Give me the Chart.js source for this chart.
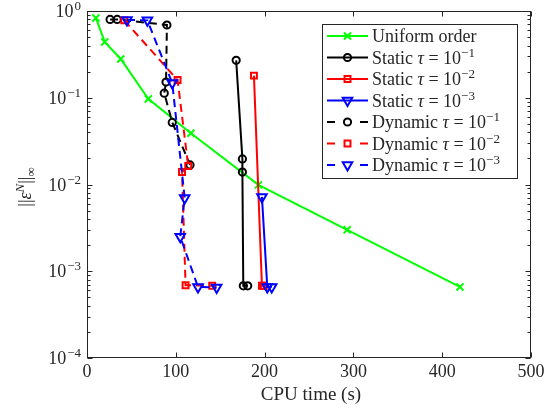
<!DOCTYPE html>
<html><head><meta charset="utf-8">
<script src="https://cdn.jsdelivr.net/npm/chart.js@4.4.1/dist/chart.umd.min.js"></script>
<style>html,body{margin:0;padding:0;background:#fff;} #c{display:block;}</style>
</head><body>
<canvas id="c" width="555" height="418" style="width:555px;height:418px"></canvas>
<script>
// ---- data ----
const uniformX  = [10, 20, 38, 69, 117, 193, 293, 420];
const uniformY  = [0.83, 0.44, 0.28, 0.097, 0.039, 0.0099, 0.0030, 0.00066];
const static1X  = [168, 175, 175, 176, 181];
const static1Y  = [0.27, 0.0197, 0.0139, 0.00068, 0.00068];
const static2X  = [188, 197, 199];
const static2Y  = [0.18, 0.00068, 0.00068];
const static3X  = [197, 203, 208];
const static3Y  = [0.0072, 0.00066, 0.00066];
const dynamic1X = [26, 34, 90, 89, 87, 96, 116];
const dynamic1Y = [0.80, 0.80, 0.69, 0.152, 0.113, 0.052, 0.0168];
const dynamic2X = [42, 102, 114, 107, 111, 141];
const dynamic2Y = [0.78, 0.16, 0.0163, 0.0139, 0.00069, 0.00068];
const dynamic3X = [45, 68, 96, 110, 105, 125, 146];
const dynamic3Y = [0.79, 0.78, 0.148, 0.0070, 0.0025, 0.00066, 0.00065];
const xTicks = [0, 100, 200, 300, 400, 500];
const yTickExponents = [0, -1, -2, -3, -4];
const legendNames = ['Uniform order', 'Static', 'Static', 'Static', 'Dynamic', 'Dynamic', 'Dynamic'];
const legendExps  = [null, '\u22121', '\u22122', '\u22123', '\u22121', '\u22122', '\u22123'];
const xTitle = 'CPU time (s)';

// ---- styles ----
const seriesX = [uniformX, static1X, static2X, static3X, dynamic1X, dynamic2X, dynamic3X];
const seriesY = [uniformY, static1Y, static2Y, static3Y, dynamic1Y, dynamic2Y, dynamic3Y];
const styles = [
  {color:'#00ff00', dashed:false, point:'crossRot', r:5,   rot:0},
  {color:'#000000', dashed:false, point:'circle',   r:3.6, rot:0},
  {color:'#ff0000', dashed:false, point:'rect',     r:4.2, rot:0},
  {color:'#0000ff', dashed:false, point:'triangle', r:5.5, rot:180},
  {color:'#000000', dashed:true,  point:'circle',   r:3.6, rot:0},
  {color:'#ff0000', dashed:true,  point:'rect',     r:4.2, rot:0},
  {color:'#0000ff', dashed:true,  point:'triangle', r:5.5, rot:180}
];
const SERIF = "'Liberation Serif', 'Times New Roman', serif";
const AX = '#262626';

const datasets = seriesX.map((xs, i) => {
  const s = styles[i];
  return {
    label: legendNames[i] + (legendExps[i] ? ' \u03c4 = 10' + legendExps[i] : ''),
    data: xs.map((x, j) => ({x: x, y: seriesY[i][j]})),
    borderColor: s.color, backgroundColor: s.color,
    borderWidth: 2, borderDash: s.dashed ? [8, 5] : [],
    tension: 0, fill: false,
    pointStyle: s.point, pointRadius: s.r, pointRotation: s.rot,
    pointBorderColor: s.color, pointBackgroundColor: 'rgba(0,0,0,0)',
    pointBorderWidth: 2, pointHoverRadius: s.r,
    order: 7 - i
  };
});

function drawMarker(ctx, s, x, y) {
  ctx.save();
  ctx.strokeStyle = s.color; ctx.lineWidth = 2; ctx.setLineDash([]);
  ctx.fillStyle = 'rgba(0,0,0,0)';
  Chart.helpers.drawPoint(ctx, {pointStyle: s.point, radius: s.r, rotation: s.rot, borderWidth: 2}, x, y);
  ctx.restore();
}

const axesPlugin = {
  id: 'axesBox',
  afterDraw(chart) {
    const {ctx, chartArea: a, scales: {x, y}} = chart;
    ctx.save();
    ctx.strokeStyle = AX; ctx.lineWidth = 1; ctx.setLineDash([]);
    const L = Math.round(a.left) + 0.5, R = Math.round(a.right) - 0.5;
    const T = Math.round(a.top) + 0.5, B = Math.round(a.bottom) - 0.5;
    ctx.strokeRect(L, T, R - L, B - T);
    ctx.beginPath();
    xTicks.forEach(v => {
      const px = Math.round(x.getPixelForValue(v)) + 0.5;
      ctx.moveTo(px, B); ctx.lineTo(px, B - 5);
      ctx.moveTo(px, T); ctx.lineTo(px, T + 5);
    });
    for (let e = -4; e <= 0; e++) {
      for (let k = 1; k <= 9; k++) {
        const v = k * Math.pow(10, e);
        if (v > 1.0000001) break;
        const py = Math.round(y.getPixelForValue(v)) + 0.5;
        const len = k === 1 ? 5 : 3;
        ctx.moveTo(L, py); ctx.lineTo(L + len, py);
        ctx.moveTo(R, py); ctx.lineTo(R - len, py);
      }
    }
    ctx.stroke();

    // y tick labels 10^e
    ctx.fillStyle = AX; ctx.textBaseline = 'alphabetic'; ctx.textAlign = 'left';
    const mainF = '18px ' + SERIF, supF = '13px ' + SERIF;
    yTickExponents.forEach(e => {
      const py = y.getPixelForValue(Math.pow(10, e));
      const ex = e === 0 ? '0' : '\u2212' + (-e);
      ctx.font = supF; const ew = ctx.measureText(ex).width;
      ctx.font = mainF; const bw = ctx.measureText('10').width;
      const right = 81;
      ctx.fillText('10', right - ew - 1 - bw, py + 6);
      ctx.font = supF; ctx.fillText(ex, right - ew, py - 1);
    });

    // x title
    ctx.font = '19px ' + SERIF; ctx.textAlign = 'center';
    ctx.fillText(xTitle, (a.left + a.right) / 2 + 2, 400);

    // y title ||eps^N||_inf
    ctx.save();
    ctx.translate(31, 187); ctx.rotate(-Math.PI / 2);
    const parts = [
      {t:'||', f:'18px ' + SERIF, dy:0},
      {t:'\u03b5', f:'italic 18px ' + SERIF, dy:0},
      {t:'N', f:'italic 13px ' + SERIF, dy:-7},
      {t:'||', f:'18px ' + SERIF, dy:0},
      {t:'\u221e', f:'13px ' + SERIF, dy:4}
    ];
    let tw = 0;
    parts.forEach(p => { ctx.font = p.f; p.w = ctx.measureText(p.t).width; tw += p.w; });
    let cx = -tw / 2; ctx.textAlign = 'left';
    parts.forEach(p => { ctx.font = p.f; ctx.fillText(p.t, cx, p.dy); cx += p.w; });
    ctx.restore();

    // legend
    const bx = 322, by = 24, bw2 = 195, bh = 154;
    ctx.fillStyle = '#ffffff'; ctx.fillRect(bx, by, bw2, bh);
    ctx.strokeStyle = AX; ctx.lineWidth = 1; ctx.strokeRect(bx + 0.5, by + 0.5, bw2, bh);
    legendNames.forEach((name, i) => {
      const s = styles[i];
      const yb = 42 + i * 21.5, yc = yb - 6;
      ctx.strokeStyle = s.color; ctx.lineWidth = 2; ctx.setLineDash([]);
      ctx.beginPath();
      if (s.dashed) { ctx.moveTo(327, yc); ctx.lineTo(335, yc); ctx.moveTo(360, yc); ctx.lineTo(368, yc); }
      else { ctx.moveTo(327, yc); ctx.lineTo(368, yc); }
      ctx.stroke();
      drawMarker(ctx, s, 347.5, yc);
      ctx.fillStyle = AX; ctx.textAlign = 'left';
      let tx = 372;
      const seg = (t, f, dy) => { ctx.font = f; ctx.fillText(t, tx, yb + dy); tx += ctx.measureText(t).width; };
      if (!legendExps[i]) { seg(name, '18px ' + SERIF, 0); }
      else {
        seg(name + ' ', '18px ' + SERIF, 0);
        seg('\u03c4', 'italic 18px ' + SERIF, 0);
        seg(' = 10', '18px ' + SERIF, 0);
        seg(legendExps[i], '13px ' + SERIF, -7);
      }
    });
    ctx.restore();
  }
};

new Chart(document.getElementById('c').getContext('2d'), {
  type: 'line',
  data: { datasets: datasets },
  options: {
    responsive: false, animation: false, devicePixelRatio: 1,
    layout: { padding: { top: 11, right: 24, left: 0, bottom: 0 } },
    plugins: { legend: { display: false }, tooltip: { enabled: false } },
    scales: {
      x: {
        type: 'linear', min: 0, max: 500,
        ticks: { stepSize: 100, color: AX, padding: 3, font: { family: SERIF, size: 18 }, maxRotation: 0 },
        grid: { display: false, drawTicks: false }, border: { display: false },
        afterFit: s => { s.height = 60; }
      },
      y: {
        type: 'logarithmic', min: 1e-4, max: 1,
        ticks: { display: false },
        grid: { display: false, drawTicks: false }, border: { display: false },
        afterFit: s => { s.width = 87; }
      }
    }
  },
  plugins: [axesPlugin]
});
</script>
</body></html>
